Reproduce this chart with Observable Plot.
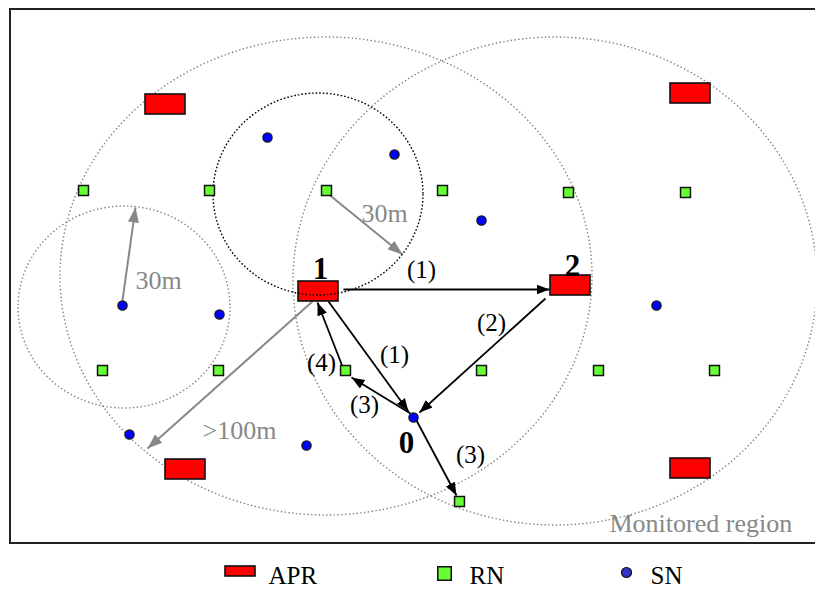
<!DOCTYPE html>
<html><head><meta charset="utf-8">
<script src="https://cdn.jsdelivr.net/npm/d3@7"></script>
<script src="https://cdn.jsdelivr.net/npm/@observablehq/plot@0.6"></script>
<style>body{margin:0;background:#fff}</style>
</head><body><div id="chart"></div>
<script>
// ---- data (pixel-like coordinates, y downwards) ----
const aprNodes = [
  {x:165, y:104}, {x:690, y:93}, {x:318, y:291},
  {x:570, y:285}, {x:185, y:469}, {x:690, y:468}
];
const rnNodes = [
  {x:83, y:190}, {x:209, y:190}, {x:326, y:190}, {x:442, y:190}, {x:568, y:192}, {x:685, y:192},
  {x:102, y:370}, {x:218, y:370}, {x:345, y:370}, {x:481, y:370}, {x:598, y:370}, {x:714, y:370},
  {x:459, y:501}
];
const snNodes = [
  {x:267, y:137}, {x:394, y:154}, {x:481, y:220}, {x:122, y:305}, {x:219, y:314},
  {x:129, y:434}, {x:306, y:445}, {x:656, y:305}, {x:413, y:417}
];
const ranges = [
  {cx:326, cy:276, rx:266, ry:239, kind:"apr"},
  {cx:555, cy:281, rx:262, ry:244, kind:"apr"},
  {cx:318, cy:194, rx:105, ry:101, kind:"rn"},
  {cx:124, cy:307, rx:106, ry:101, kind:"sn"}
];
const region = [{x1:10, y1:9, x2:830, y2:543}];
const distanceArrows = [
  {x1:122, y1:300, x2:135, y2:207},
  {x1:326, y1:192, x2:402, y2:254},
  {x1:312, y1:301, x2:147, y2:448}
];
const messageArrows = [
  {x1:343, y1:289, x2:549, y2:289},
  {x1:328, y1:301, x2:408, y2:411},
  {x1:545, y1:298, x2:419, y2:412},
  {x1:410, y1:413, x2:351, y2:377},
  {x1:416, y1:420, x2:456, y2:495},
  {x1:342, y1:366, x2:317, y2:302}
];
const nodeLabels = [
  {text:"1", x:320, y:278}, {text:"2", x:572, y:275}, {text:"0", x:406, y:452}
];
const stepLabels = [
  {text:"(1)", x:421, y:277}, {text:"(2)", x:491, y:330}, {text:"(1)", x:394, y:362},
  {text:"(4)", x:321, y:370}, {text:"(3)", x:364, y:412}, {text:"(3)", x:470, y:462}
];
const grayLabels = [
  {text:"30m", x:135, y:288}, {text:"30m", x:361, y:221},
  {text:">100m", x:202, y:438}, {text:"Monitored region", x:609, y:531}
];
const legendLabels = ["APR", "RN", "SN"];

// ---- layout / style ----
const legendPos = [{x:240, y:571}, {x:444, y:573}, {x:626, y:572}];
const legendTextX = [268, 469, 650];
const serif = "'Liberation Serif', 'Times New Roman', 'DejaVu Serif', serif";

function triMarker(len, wid) {
  return (color) => {
    const m = d3.create("svg:marker")
      .attr("viewBox", `${-len} ${-wid/2} ${len} ${wid}`)
      .attr("markerUnits", "userSpaceOnUse")
      .attr("markerWidth", len).attr("markerHeight", wid)
      .attr("refX", 0).attr("refY", 0)
      .attr("orient", "auto")
      .attr("fill", color).attr("stroke", "none");
    m.append("path").attr("d", `M${-len},${-wid/2}L0,0L${-len},${wid/2}Z`);
    return m.node();
  };
}

function ellipses(data, stroke, dash) {
  return (index, scales) => {
    const {x, y} = scales;
    const g = d3.create("svg:g");
    for (const d of data) {
      g.append("ellipse")
        .attr("cx", x(d.cx)).attr("cy", y(d.cy))
        .attr("rx", Math.abs(x(d.cx + d.rx) - x(d.cx)))
        .attr("ry", Math.abs(y(d.cy + d.ry) - y(d.cy)))
        .attr("fill", "none").attr("stroke", stroke)
        .attr("stroke-width", 1.4).attr("stroke-dasharray", dash);
    }
    return g.node();
  };
}

const grayRanges = ranges.filter(d => d.kind !== "rn");
const blackRanges = ranges.filter(d => d.kind === "rn");

const legendData = legendLabels.map((label, i) => ({label, ...legendPos[i], tx: legendTextX[i]}));

const chart = Plot.plot({
  width: 815, height: 590,
  margin: 0,
  x: {domain: [0, 815], range: [0, 815], axis: null},
  y: {domain: [0, 590], range: [0, 590], axis: null},
  style: {fontFamily: serif, background: "#fff"},
  marks: [
    Plot.rect(region, {x1:"x1", y1:"y1", x2:"x2", y2:"y2", fill:"none", stroke:"#222", strokeWidth:2}),
    ellipses(grayRanges, "#808080", "1.4 2.4"),
    Plot.link(distanceArrows, {x1:"x1", y1:"y1", x2:"x2", y2:"y2", stroke:"#888", strokeWidth:2, markerEnd: triMarker(15, 11)}),
    Plot.link(messageArrows, {x1:"x1", y1:"y1", x2:"x2", y2:"y2", stroke:"#000", strokeWidth:1.8, markerEnd: triMarker(13, 10)}),
    Plot.rect(aprNodes, {x1: d => d.x - 20, x2: d => d.x + 20, y1: d => d.y - 10, y2: d => d.y + 10, fill:"#ff0000", stroke:"#111", strokeWidth:1.6}),
    ellipses(blackRanges, "#000", "1.6 2"),
    Plot.dot(rnNodes, {x:"x", y:"y", symbol:"square", r:5.6, fill:"#66ff33", stroke:"#111", strokeWidth:1.5}),
    Plot.dot(snNodes, {x:"x", y:"y", r:4.6, fill:"#0000ff", stroke:"#111", strokeWidth:1.3}),
    Plot.text(nodeLabels, {x:"x", y:"y", text:"text", fontFamily:serif, fontSize:31, fontWeight:"bold", textAnchor:"middle", lineAnchor:"bottom", fill:"#000"}),
    Plot.text(stepLabels, {x:"x", y:"y", text:"text", fontFamily:serif, fontSize:25, textAnchor:"middle", lineAnchor:"bottom", fill:"#000"}),
    Plot.text(grayLabels, {x:"x", y:"y", text:"text", fontFamily:serif, fontSize:26, textAnchor:"start", lineAnchor:"bottom", fill:"#888"}),
    // legend
    Plot.rect(legendData.filter(d => d.label === "APR"), {x1: d => d.x - 15, x2: d => d.x + 15, y1: d => d.y - 5, y2: d => d.y + 5, fill:"#ff0000", stroke:"#111", strokeWidth:1.6}),
    Plot.dot(legendData.filter(d => d.label === "RN"), {x:"x", y:"y", symbol:"square", r:7.6, fill:"#66ff33", stroke:"#111", strokeWidth:1.5}),
    Plot.dot(legendData.filter(d => d.label === "SN"), {x:"x", y:"y", r:5, fill:"#3333cc", stroke:"#111", strokeWidth:1.2}),
    Plot.text(legendData, {x:"tx", y: () => 583, text:"label", fontFamily:serif, fontSize:25, textAnchor:"start", lineAnchor:"bottom", fill:"#000"})
  ]
});
document.getElementById("chart").append(chart);
</script>
</body></html>
